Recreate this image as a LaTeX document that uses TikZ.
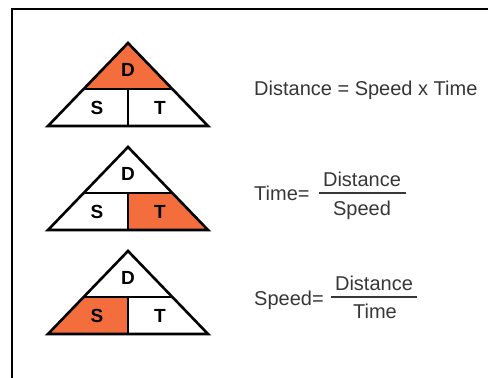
\documentclass[tikz,border=0pt]{standalone}
\usepackage{fontspec}
\setmainfont{Liberation Sans}
\definecolor{dstorange}{RGB}{243,110,60}
\definecolor{eqgray}{RGB}{55,55,55}
\tikzset{
  triline/.style={line width=2.6pt, line join=miter},
  letter/.style={font=\fontsize{19}{21}\selectfont\bfseries, inner sep=0pt},
  eqtext/.style={font=\fontsize{20}{23}\selectfont, text=eqgray, inner sep=0pt, anchor=base},
  fracbar/.style={draw=eqgray, line width=1.3pt}
}
% one D-S-T triangle; apex at the scope origin, y grows downwards
\newcommand{\dsttriangle}[2]{%
  \begin{scope}[shift={(0,#1)}]
    \ifcase#2
      \fill[dstorange] (128,0) -- (172.3,46) -- (83.7,46) -- cycle;
    \or
      \fill[dstorange] (128,46) -- (172.3,46) -- (208,83) -- (128,83) -- cycle;
    \or
      \fill[dstorange] (83.7,46) -- (128,46) -- (128,83) -- (48,83) -- cycle;
    \fi
    \draw[triline] (48,83) -- (128,0) -- (208,83) -- cycle;
    \draw[triline] (83.7,46) -- (172.3,46);
    \draw[triline] (128,46) -- (128,83);
  \end{scope}}
\begin{document}
\begin{tikzpicture}[x=1pt, y=-1pt]
  \useasboundingbox (0,0) rectangle (488,378);
  \fill[white] (0,0) rectangle (488,378);
  % frame
  \draw[line width=2pt] (12,380) -- (12,9) -- (490,9);

  % triangles
  \dsttriangle{43}{0}
  \dsttriangle{147}{1}
  \dsttriangle{251}{2}

  % letters
  \node[letter] (d1) at (128,70) {D};
  \node[letter] (s1) at (97,108) {S};
  \node[letter] (t1) at (160,108) {T};
  \node[letter] (d2) at (128,174) {D};
  \node[letter] (s2) at (97,212) {S};
  \node[letter] (t2) at (160,212) {T};
  \node[letter] (d3) at (128,278) {D};
  \node[letter] (s3) at (97,316) {S};
  \node[letter] (t3) at (160,316) {T};

  % Distance = Speed x Time
  \node[eqtext, anchor=base west] (eq1) at (254,95) {Distance = Speed x Time};

  % Time = Distance / Speed
  \node[eqtext, anchor=base west] (eq2) at (254,200) {Time=};
  \node[eqtext] (num2) at (362,186) {Distance};
  \node[eqtext] (den2) at (362,215) {Speed};
  \coordinate (bar2l) at (319,193);
  \coordinate (bar2r) at (406,193);
  \draw[fracbar] (bar2l) -- (bar2r);

  % Speed = Distance / Time
  \node[eqtext, anchor=base west] (eq3) at (254,305) {Speed=};
  \node[eqtext] (num3) at (374,290) {Distance};
  \node[eqtext] (den3) at (375,318) {Time};
  \coordinate (bar3l) at (331,297);
  \coordinate (bar3r) at (417,297);
  \draw[fracbar] (bar3l) -- (bar3r);
\end{tikzpicture}
\end{document}
